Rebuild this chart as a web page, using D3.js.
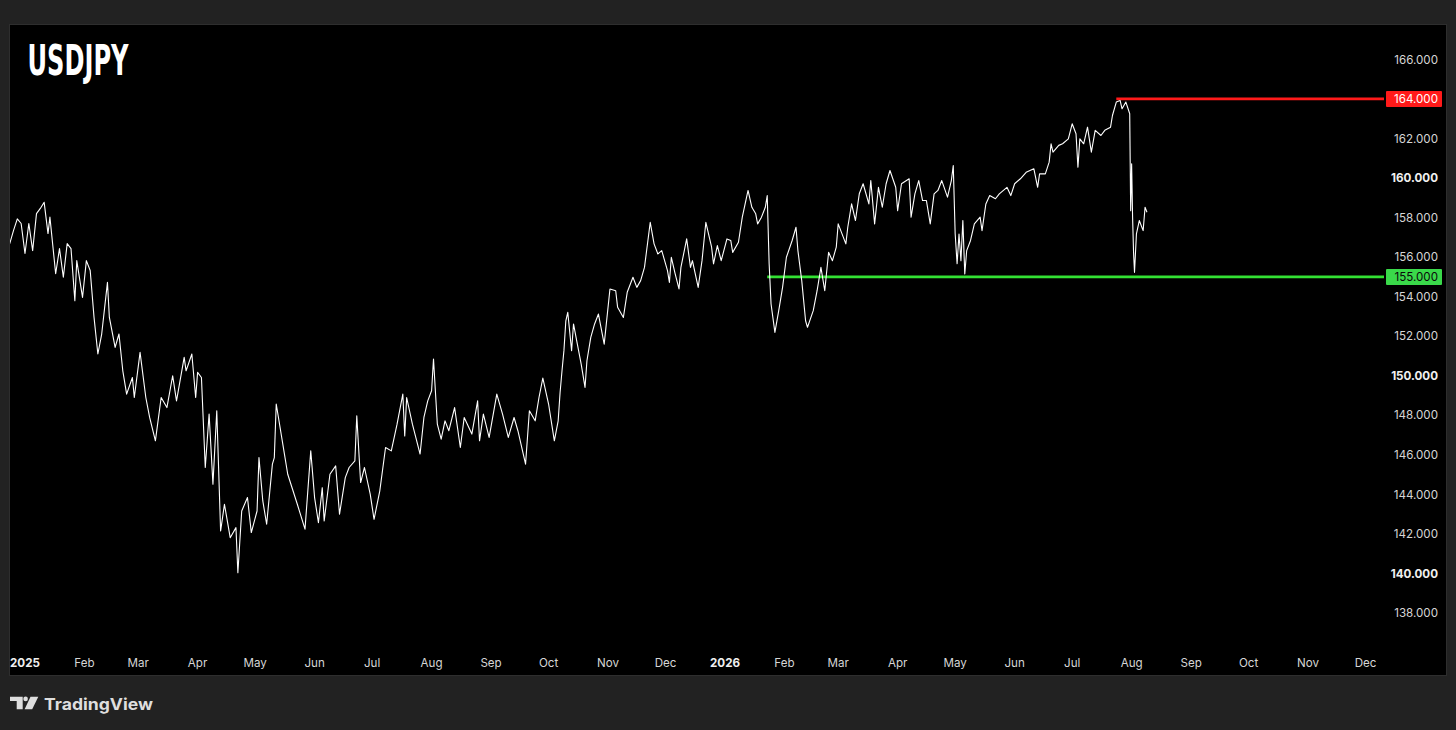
<!DOCTYPE html>
<html><head><meta charset="utf-8">
<script src="https://cdn.jsdelivr.net/npm/d3@7"></script>
<style>html,body{margin:0;padding:0;background:#222222;}svg{display:block;}</style>
</head><body>
<svg id="chart" width="1456" height="730"></svg>
<script>
// ---- data ----
const symbol = "USDJPY";
const dates = [
"2024-12-24","2024-12-26","2024-12-28","2024-12-30","2025-01-01","2025-01-03","2025-01-05","2025-01-07","2025-01-09","2025-01-11",
"2025-01-13","2025-01-14","2025-01-17","2025-01-19","2025-01-21","2025-01-23","2025-01-25","2025-01-27","2025-01-28","2025-01-31",
"2025-02-02","2025-02-04","2025-02-06","2025-02-08","2025-02-10","2025-02-13","2025-02-14","2025-02-17","2025-02-19","2025-02-21",
"2025-02-23","2025-02-26","2025-02-27","2025-03-02","2025-03-05","2025-03-07","2025-03-10","2025-03-13","2025-03-16","2025-03-19",
"2025-03-21","2025-03-25","2025-03-26","2025-03-29","2025-03-31","2025-04-01","2025-04-03","2025-04-05","2025-04-07","2025-04-09",
"2025-04-11","2025-04-13","2025-04-15","2025-04-18","2025-04-21","2025-04-22","2025-04-24","2025-04-27","2025-04-29","2025-05-02",
"2025-05-03","2025-05-05","2025-05-07","2025-05-10","2025-05-11","2025-05-12","2025-05-16","2025-05-18","2025-05-23","2025-05-27",
"2025-05-30","2025-06-01","2025-06-03","2025-06-05","2025-06-06","2025-06-09","2025-06-12","2025-06-14","2025-06-17","2025-06-19",
"2025-06-22","2025-06-23","2025-06-25","2025-06-27","2025-06-30","2025-07-02","2025-07-05","2025-07-08","2025-07-11","2025-07-14",
"2025-07-17","2025-07-18","2025-07-19","2025-07-22","2025-07-26","2025-07-28","2025-07-30","2025-08-01","2025-08-02","2025-08-04",
"2025-08-06","2025-08-08","2025-08-10","2025-08-13","2025-08-16","2025-08-18","2025-08-22","2025-08-25","2025-08-26","2025-08-28",
"2025-08-31","2025-09-04","2025-09-07","2025-09-10","2025-09-13","2025-09-15","2025-09-19","2025-09-21","2025-09-24","2025-09-26",
"2025-09-28","2025-10-01","2025-10-04","2025-10-06","2025-10-07","2025-10-08","2025-10-09","2025-10-10","2025-10-11","2025-10-13",
"2025-10-14","2025-10-16","2025-10-18","2025-10-20","2025-10-21","2025-10-23","2025-10-25","2025-10-27","2025-10-29","2025-10-30",
"2025-11-02","2025-11-05","2025-11-06","2025-11-09","2025-11-11","2025-11-14","2025-11-16","2025-11-18","2025-11-20","2025-11-23",
"2025-11-25","2025-11-27","2025-11-29","2025-12-02","2025-12-03","2025-12-04","2025-12-06","2025-12-08","2025-12-09","2025-12-12",
"2025-12-14","2025-12-15","2025-12-18","2025-12-20","2025-12-22","2025-12-25","2025-12-26","2025-12-28","2025-12-30","2026-01-02",
"2026-01-04","2026-01-05","2026-01-08","2026-01-10","2026-01-13","2026-01-15","2026-01-17","2026-01-18","2026-01-20","2026-01-22",
"2026-01-23","2026-01-24","2026-01-25","2026-01-27","2026-01-29","2026-01-31","2026-02-02","2026-02-05","2026-02-07","2026-02-08",
"2026-02-10","2026-02-12","2026-02-13","2026-02-16","2026-02-18","2026-02-20","2026-02-22","2026-02-24","2026-02-26","2026-02-28",
"2026-03-01","2026-03-05","2026-03-06","2026-03-08","2026-03-10","2026-03-12","2026-03-14","2026-03-17","2026-03-18","2026-03-20",
"2026-03-22","2026-03-24","2026-03-26","2026-03-28","2026-03-31","2026-04-01","2026-04-03","2026-04-07","2026-04-08","2026-04-10",
"2026-04-12","2026-04-14","2026-04-16","2026-04-18","2026-04-20","2026-04-22","2026-04-24","2026-04-27","2026-04-29","2026-04-30",
"2026-05-01","2026-05-02","2026-05-03","2026-05-04","2026-05-05","2026-05-06","2026-05-07","2026-05-09","2026-05-11","2026-05-14",
"2026-05-15","2026-05-17","2026-05-19","2026-05-22","2026-05-24","2026-05-28","2026-05-30","2026-06-01","2026-06-04","2026-06-07",
"2026-06-11","2026-06-13","2026-06-14","2026-06-17","2026-06-19","2026-06-20","2026-06-21","2026-06-24","2026-06-26","2026-06-29",
"2026-07-01","2026-07-03","2026-07-04","2026-07-05","2026-07-07","2026-07-09","2026-07-11","2026-07-13","2026-07-16","2026-07-18",
"2026-07-21","2026-07-22","2026-07-24","2026-07-26","2026-07-27","2026-07-29","2026-07-31T00","2026-07-31T12","2026-08-01T00","2026-08-01T12",
"2026-08-02T00","2026-08-02T12","2026-08-03T12","2026-08-05","2026-08-07","2026-08-08","2026-08-09"
];
const prices = [
156.67,157.34,157.93,157.70,156.18,157.70,156.33,158.20,158.46,158.77,
157.19,158.02,155.16,156.43,154.98,156.68,156.43,153.80,155.82,153.96,
155.82,155.32,152.95,151.10,152.11,154.72,152.95,151.43,152.11,150.25,
149.07,149.91,148.90,151.18,148.90,147.89,146.71,148.90,148.39,150.00,
148.73,150.93,150.25,151.10,148.90,150.17,149.91,145.36,148.06,144.52,
148.23,142.15,143.50,141.81,142.32,140.04,143.16,143.84,142.07,143.16,
145.86,143.67,142.49,145.53,145.86,148.57,146.20,145.02,143.50,142.24,
146.20,143.84,142.57,144.34,142.66,145.02,145.44,143.00,144.85,145.36,
145.70,147.97,144.60,145.36,144.01,142.74,144.18,146.37,146.20,147.55,
149.07,146.96,148.90,147.55,146.04,147.89,148.73,149.24,150.85,147.55,
146.79,147.72,147.22,148.39,146.37,147.89,147.05,148.73,146.71,148.06,
146.88,149.07,148.06,146.88,147.89,147.22,145.53,148.23,147.72,148.90,
149.88,148.57,146.71,147.72,149.15,150.25,151.27,152.78,153.21,151.27,
152.62,151.60,150.59,149.41,150.76,151.94,152.62,153.12,152.11,151.60,
154.39,154.30,153.46,152.95,154.22,154.98,154.47,154.81,155.48,157.76,
156.67,156.16,156.33,155.32,154.72,155.99,155.15,154.39,155.48,156.92,
155.48,155.82,154.47,155.82,157.76,156.50,155.66,156.58,155.82,156.92,
156.84,156.24,156.75,158.02,159.37,158.52,158.19,157.68,158.02,158.52,
159.11,155.66,153.63,152.19,153.29,154.47,155.99,156.84,157.51,156.33,
154.81,152.78,152.45,153.29,154.30,155.48,154.30,156.24,155.82,156.50,
157.68,156.67,157.51,158.69,157.85,159.20,159.71,158.69,159.87,157.68,
159.53,158.52,159.71,160.38,159.53,158.35,159.71,159.96,158.02,159.20,
159.87,158.86,158.86,157.68,159.20,159.37,159.87,159.03,159.87,160.63,
157.17,155.66,157.17,155.82,157.85,155.15,156.33,156.84,157.68,158.02,
157.34,158.69,159.11,158.95,159.20,159.53,159.11,159.71,159.96,160.29,
160.47,159.53,160.21,160.21,160.80,161.73,161.31,161.65,161.73,161.98,
162.74,162.24,160.55,161.98,161.73,162.57,161.31,162.41,162.15,162.41,
162.57,163.16,163.84,163.92,163.50,163.84,163.25,158.35,160.72,158.02,
156.24,155.23,157.17,157.85,157.34,158.52,158.27
];
const priceTicks = [138,140,142,144,146,148,150,152,154,156,158,160,162,164,166];
const boldPrices = [140,150,160];
const monthTicks = ["2025-01-01","2025-02-01","2025-03-01","2025-04-01","2025-05-01","2025-06-01","2025-07-01","2025-08-01","2025-09-01","2025-10-01","2025-11-01","2025-12-01",
  "2026-01-01","2026-02-01","2026-03-01","2026-04-01","2026-05-01","2026-06-01","2026-07-01","2026-08-01","2026-09-01","2026-10-01","2026-11-01","2026-12-01"];
const levels = [
  {price:164, from:"2026-07-24", color:"#ff1a1a", box:"#ff1a1a", text:"#ffffff"},
  {price:155, from:"2026-01-23", color:"#33e133", box:"#3ad94a", text:"#0a0a0a"}
];
const viewStart = "2024-12-23T16", viewEnd = "2026-12-10T14";

// ---- drawing ----
const parseDay = d3.utcParse("%Y-%m-%d"), parseHour = d3.utcParse("%Y-%m-%dT%H");
const parse = s => s.length > 10 ? parseHour(s) : parseDay(s);
const svg = d3.select("#chart");
const P = {left:9, right:1384, top:24, bottom:676};

svg.append("rect").attr("width",1456).attr("height",730).attr("fill","#222222");
svg.append("rect").attr("x",9.5).attr("y",24.5).attr("width",1437).attr("height",651)
  .attr("fill","#000").attr("stroke","#2e2e2e").attr("stroke-width",1);

const x = d3.scaleUtc().domain([parse(viewStart), parse(viewEnd)]).range([P.left, P.right]);
const y = d3.scaleLinear().domain([140,160]).range([573.5,178]);

svg.append("clipPath").attr("id","plotclip").append("rect")
  .attr("x",P.left+1).attr("y",P.top+1).attr("width",P.right-P.left-1).attr("height",P.bottom-P.top-2);

const data = dates.map((d,i)=>({t:parse(d), p:prices[i]}));
const line = d3.line().x(d=>x(d.t)).y(d=>y(d.p));

const plot = svg.append("g").attr("clip-path","url(#plotclip)");

// levels
levels.forEach(l=>{
  plot.append("line").attr("x1",x(parse(l.from))).attr("x2",P.right)
    .attr("y1",y(l.price)).attr("y2",y(l.price))
    .attr("stroke",l.color).attr("stroke-width",2.8);
});

plot.append("path").datum(data).attr("d",line)
  .attr("fill","none").attr("stroke","#ffffff").attr("stroke-width",1.1).attr("stroke-linejoin","round");

// price axis
const yAxis = svg.append("g");
priceTicks.forEach(v=>{
  if (levels.some(l=>l.price===v)) return;
  yAxis.append("text").attr("x",1438).attr("y",y(v)).attr("dy","0.36em")
    .attr("text-anchor","end").attr("font-family","Inter, 'Noto Sans', sans-serif")
    .attr("font-size",11.6).attr("font-weight",boldPrices.includes(v)?700:400)
    .attr("fill",boldPrices.includes(v)?"#f0f0f0":"#d6d6d6").text(d3.format(".3f")(v));
});
levels.forEach(l=>{
  yAxis.append("rect").attr("x",1386).attr("y",y(l.price)-8).attr("width",56).attr("height",16)
    .attr("fill",l.box).attr("rx",1);
  yAxis.append("text").attr("x",1438).attr("y",y(l.price)).attr("dy","0.36em")
    .attr("text-anchor","end").attr("font-family","Inter, 'Noto Sans', sans-serif")
    .attr("font-size",11.6).attr("fill",l.text).text(d3.format(".3f")(l.price));
});

// time axis
const xAxis = svg.append("g");
monthTicks.forEach(s=>{
  const t = parse(s);
  const isYear = t.getUTCMonth()===0;
  xAxis.append("text").attr("x",x(t)).attr("y",663).attr("dy","0.36em")
    .attr("text-anchor","middle").attr("font-family","Inter, 'Noto Sans', sans-serif")
    .attr("font-size",11.6).attr("font-weight",isYear?700:400)
    .attr("fill",isYear?"#f0f0f0":"#d6d6d6")
    .text(isYear ? d3.utcFormat("%Y")(t) : d3.utcFormat("%b")(t));
});

// title
svg.append("text").attr("x",27.5).attr("y",75).attr("fill","#ffffff")
  .attr("font-family","'Liberation Sans Narrow','DejaVu Sans Condensed',sans-serif")
  .attr("font-weight",700).attr("font-size",43)
  .attr("textLength",101).attr("lengthAdjust","spacingAndGlyphs").text(symbol);

// TradingView logo
const logo = svg.append("g").attr("fill","#dedede");
logo.append("path").attr("d","M10,696.7 H22.7 V709.3 H16.7 V701 H10 Z");
logo.append("circle").attr("cx",25.6).attr("cy",698.9).attr("r",2.3);
logo.append("path").attr("d","M30.5,696.7 H38.3 L32.2,709.3 H24.6 Z");
logo.append("text").attr("x",44).attr("y",709.5)
  .attr("font-family","Inter, 'Noto Sans', sans-serif").attr("font-weight",700).attr("font-size",16)
  .attr("textLength",109).attr("lengthAdjust","spacingAndGlyphs").text("TradingView");
</script>
</body></html>
